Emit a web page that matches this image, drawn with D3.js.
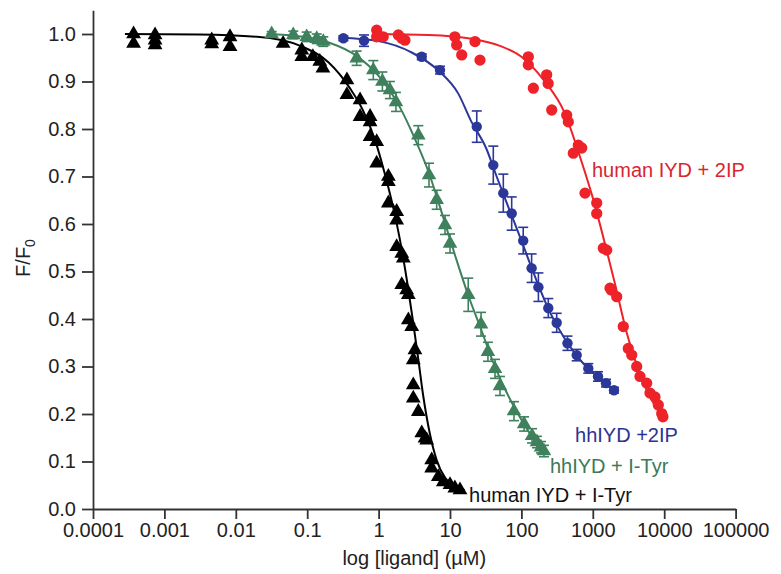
<!DOCTYPE html>
<html><head><meta charset="utf-8">
<script src="https://cdn.jsdelivr.net/npm/d3@7"></script>
<style>body{margin:0;background:#fff}svg{display:block}text{font-family:"Liberation Sans",Arial,sans-serif}</style>
</head><body><svg id="c" width="781" height="574"></svg>
<script>
// ---- data ----
const xTickValues = [1e-4, 1e-3, 1e-2, 1e-1, 1, 10, 100, 1000, 10000, 100000];
const xTickLabels = ["0.0001","0.001","0.01","0.1","1","10","100","1000","10000","100000"];
const yTickValues = [0,0.1,0.2,0.3,0.4,0.5,0.6,0.7,0.8,0.9,1.0];
const yTickLabels = ["0.0","0.1","0.2","0.3","0.4","0.5","0.6","0.7","0.8","0.9","1.0"];
const seriesNames = ["human IYD + I-Tyr","hhIYD + I-Tyr","hhIYD +2IP","human IYD + 2IP"];
const xTitle = "log [ligand] (\u00B5M)";

// human IYD + I-Tyr : [conc µM, F/F0]
const blackPts = [[0.00037,1.0],[0.00037,0.98],[0.00074,0.998],[0.00074,0.987],[0.00074,0.977],[0.0046,0.987],[0.0046,0.979],[0.0083,0.994],[0.0083,0.973],[0.046,0.98],[0.084,0.966],[0.084,0.952],[0.12,0.952],[0.15,0.942],[0.166,0.928],[0.36,0.903],[0.36,0.872],[0.55,0.861],[0.55,0.826],[0.76,0.826],[0.76,0.815],[0.76,0.784],[0.94,0.773],[0.94,0.728],[1.37,0.70],[1.37,0.689],[1.37,0.644],[1.79,0.626],[1.79,0.608],[1.79,0.552],[2.11,0.538],[2.22,0.528],[2.11,0.472],[2.47,0.461],[2.61,0.451],[2.61,0.398],[2.91,0.384],[3.23,0.335],[3.06,0.314],[3.06,0.261],[3.06,0.233],[3.6,0.205],[4.02,0.16],[4.47,0.149],[4.72,0.145],[5.54,0.103],[5.54,0.086],[6.86,0.068],[8.06,0.057],[10,0.051],[11.7,0.044],[13.8,0.04]];
const blackFit = [[0.00028,1.0],[0.003,0.999],[0.02,0.994],[0.08,0.975],[0.2,0.94],[0.4,0.885],[0.6,0.84],[0.9,0.775],[1.2,0.71],[1.6,0.635],[2.0,0.565],[2.5,0.48],[3.0,0.4],[3.6,0.315],[4.2,0.24],[5.2,0.16],[6.5,0.103],[8.5,0.066],[11,0.05],[16,0.04]];

// hhIYD + I-Tyr : [conc, mean, sd]
const greenPts = [[0.0318,1.0,0.005],[0.0638,0.998,0.008],[0.0984,0.994,0.01],[0.136,0.99,0.01],[0.168,0.984,0.01],[0.493,0.949,0.015],[0.843,0.924,0.02],[1.13,0.90,0.02],[1.44,0.882,0.018],[1.75,0.857,0.02],[3.6,0.787,0.02],[5.08,0.703,0.025],[6.51,0.651,0.02],[8.51,0.598,0.02],[10.0,0.559,0.02],[18.0,0.451,0.035],[27.2,0.389,0.025],[34.0,0.331,0.02],[42.7,0.295,0.02],[50.1,0.259,0.02],[78.7,0.206,0.02],[109,0.179,0.015],[141,0.154,0.015],[165,0.141,0.012],[188,0.13,0.012],[207,0.122,0.012]];
const greenFit = [[0.027,1.0],[0.05,0.998],[0.1,0.993],[0.2,0.982],[0.5,0.953],[1,0.912],[2,0.845],[3,0.79],[5,0.71],[8,0.615],[12,0.53],[18,0.45],[27,0.38],[40,0.31],[60,0.25],[90,0.2],[130,0.16],[200,0.125],[220,0.12]];

// hhIYD +2IP : [conc, mean, sd]
const bluePts = [[0.321,0.991,0.005],[0.625,0.986,0.012],[4.02,0.952,0.006],[7.24,0.924,0.008],[23.7,0.805,0.033],[40.4,0.724,0.04],[55.8,0.665,0.04],[73.1,0.622,0.035],[106,0.565,0.028],[139,0.507,0.03],[173,0.467,0.03],[238,0.423,0.02],[312,0.392,0.02],[442,0.349,0.015],[595,0.324,0.012],[865,0.296,0.01],[1183,0.279,0.01],[1531,0.265,0.008],[1981,0.25,0.006]];
const blueFit = [[0.29,0.992],[1,0.985],[3,0.96],[7,0.922],[13,0.875],[20,0.815],[32,0.76],[45,0.70],[70,0.625],[100,0.565],[150,0.495],[250,0.415],[400,0.36],[700,0.31],[1200,0.277],[2000,0.25]];

// human IYD + 2IP : [conc, F/F0]
const redPts = [[0.94,1.008],[0.94,0.994],[1.16,0.994],[1.89,0.998],[2.11,0.991],[2.34,0.987],[11.7,0.994],[12.4,0.977],[14.6,0.956],[22.4,0.984],[26.3,0.945],[125,0.952],[125,0.935],[147,0.886],[226,0.914],[237,0.896],[266,0.84],[431,0.829],[454,0.815],[533,0.749],[627,0.766],[700,0.76],[778,0.665],[1135,0.644],[1135,0.622],[1403,0.549],[1567,0.545],[1742,0.465],[1810,0.461],[2162,0.447],[2673,0.384],[3141,0.338],[3508,0.324],[4120,0.30],[4581,0.279],[5689,0.265],[6324,0.244],[7430,0.236],[8267,0.219],[9230,0.201],[9590,0.194]];
const redFit = [[0.87,1.0],[5,0.998],[20,0.99],[50,0.975],[100,0.952],[200,0.905],[400,0.835],[700,0.73],[1000,0.655],[1500,0.555],[2000,0.48],[3000,0.37],[5000,0.27],[8000,0.21],[10000,0.19]];

// ---- drawing ----
const svg = d3.select("#c");
svg.append("rect").attr("width",781).attr("height",574).attr("fill","#fff");
const x = d3.scaleLog().domain([1e-4, 1e5]).range([93, 735.6]);
const y = d3.scaleLinear().domain([0, 1.05]).range([509, 10.25]);
const axisColor = "#333";

// axes
const gy = svg.append("g").attr("transform","translate(93,0)");
gy.call(d3.axisLeft(y).tickValues(d3.range(0.05,1.06,0.1)).tickSize(4).tickFormat("").tickSizeOuter(0));
gy.call(d3.axisLeft(y).tickValues(yTickValues).tickFormat((d,i)=>yTickLabels[i]).tickSize(11).tickPadding(6).tickSizeOuter(0));
const gx = svg.append("g").attr("transform","translate(0,509)");
const minorX = [];
for (let k=-4;k<5;k++) for (let m=2;m<10;m++) minorX.push(m*Math.pow(10,k));
gx.call(d3.axisBottom(x).tickValues(minorX).tickSize(5).tickFormat("").tickSizeOuter(0));
gx.call(d3.axisBottom(x).tickValues(xTickValues).tickFormat((d,i)=>xTickLabels[i]).tickSize(10).tickPadding(4).tickSizeOuter(0));
svg.selectAll(".domain, .tick line").attr("stroke",axisColor).attr("stroke-width",1.8);
svg.selectAll(".tick text").attr("font-size",20).attr("fill","#222").attr("font-family",'"Liberation Sans",Arial,sans-serif');

// titles
svg.append("text").attr("x",(x.range()[0]+x.range()[1])/2).attr("y",565).attr("text-anchor","middle")
  .attr("font-size",20).attr("fill","#222").text(xTitle);
const yt = svg.append("text").attr("transform","translate(30,258) rotate(-90)").attr("text-anchor","middle")
  .attr("font-size",20).attr("fill","#222");
yt.append("tspan").text("F/F");
yt.append("tspan").attr("font-size",14).attr("dy",5).text("0");

const line = d3.line().x(d=>x(d[0])).y(d=>y(d[1])).curve(d3.curveMonotoneX);
const series = [
  {pts:blackPts, fit:blackFit, color:"#000", text:"#111", sym:d3.symbolTriangle, size:95, err:false, lab:[18.5,0.0154]},
  {pts:greenPts, fit:greenFit, color:"#3f805d", text:"#3a7a57", sym:d3.symbolTriangle, size:92, err:true, lab:[251,0.0764]},
  {pts:bluePts, fit:blueFit, color:"#2b3899", text:"#2e3192", sym:d3.symbolCircle, size:85, err:true, lab:[564,0.1417]},
  {pts:redPts, fit:redFit, color:"#ee2229", text:"#d8262e", sym:d3.symbolCircle, size:100, err:false, lab:[975,0.70]}
];
series.forEach((s,i)=>{
  const g = svg.append("g");
  g.append("path").attr("d",line(s.fit)).attr("fill","none").attr("stroke",s.color).attr("stroke-width",2);
  if (s.err) {
    const eb = g.selectAll(".eb").data(s.pts).join("g");
    eb.append("line").attr("x1",d=>x(d[0])).attr("x2",d=>x(d[0])).attr("y1",d=>y(d[1]-d[2])).attr("y2",d=>y(d[1]+d[2]))
      .attr("stroke",s.color).attr("stroke-width",1.6);
    [1,-1].forEach(sg=>{
      eb.append("line").attr("x1",d=>x(d[0])-5).attr("x2",d=>x(d[0])+5).attr("y1",d=>y(d[1]+sg*d[2])).attr("y2",d=>y(d[1]+sg*d[2]))
        .attr("stroke",s.color).attr("stroke-width",1.6);
    });
  }
  g.selectAll(".m").data(s.pts).join("path")
    .attr("transform",d=>`translate(${x(d[0])},${y(d[1])})`)
    .attr("d",d3.symbol(s.sym,s.size)).attr("fill",s.color);
  svg.append("text").attr("x",x(s.lab[0])).attr("y",y(s.lab[1])).attr("font-size",20).attr("fill",s.text).text(seriesNames[i]);
});
</script></body></html>
